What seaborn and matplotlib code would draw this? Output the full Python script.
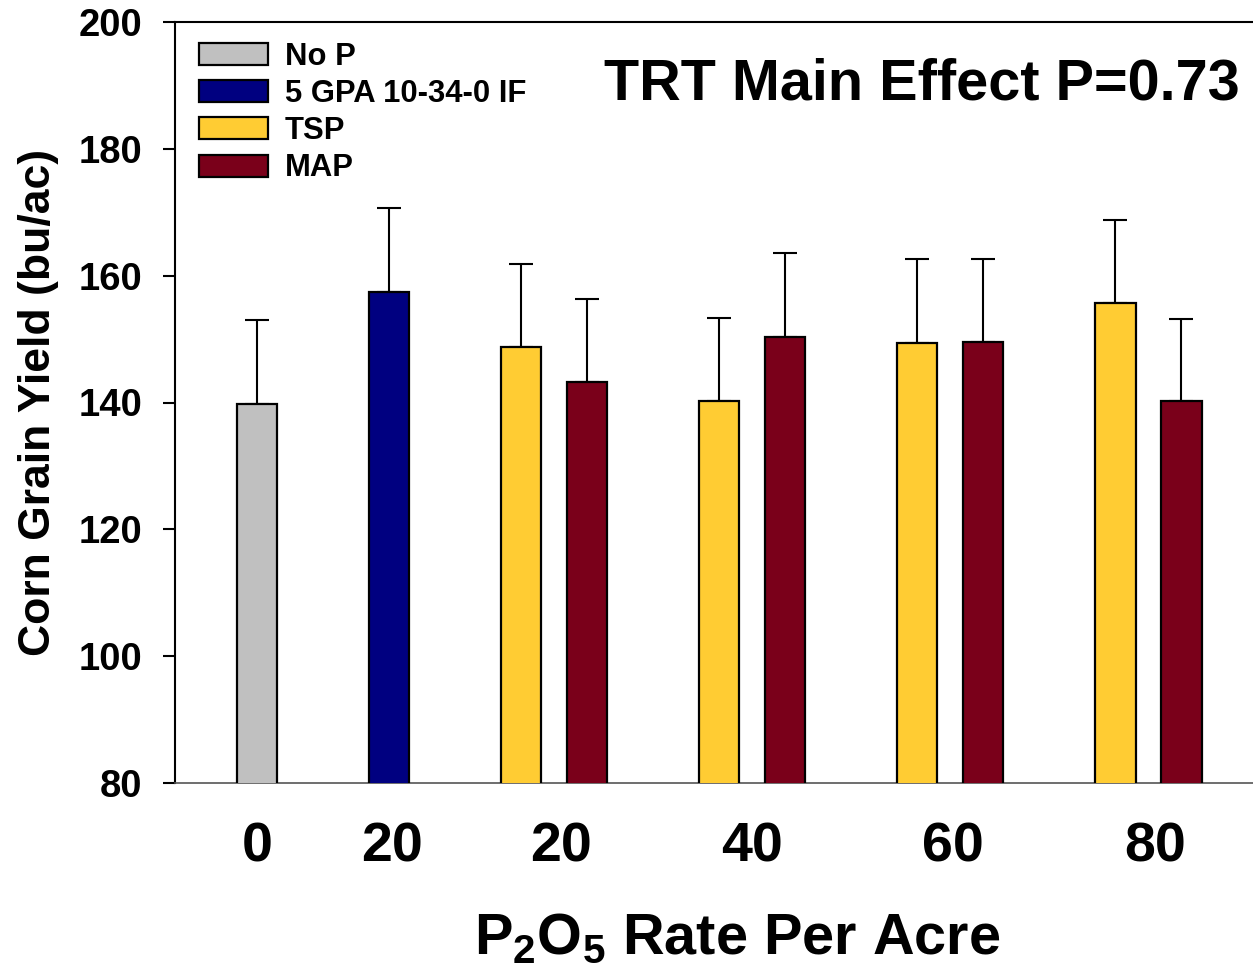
import matplotlib
matplotlib.use("Agg")
import matplotlib.pyplot as plt
from matplotlib.patches import Patch
import seaborn as sns
import pandas as pd
import numpy as np

# ---- data ----
treatments = ["No P", "5 GPA 10-34-0 IF", "TSP", "MAP", "TSP", "MAP", "TSP", "MAP", "TSP", "MAP"]
rate_group = ["0", "20", "20", "20", "40", "40", "60", "60", "80", "80"]
yield_mean = [139.8, 157.4, 148.8, 143.2, 140.2, 150.3, 149.4, 149.5, 155.7, 140.2]
yield_err = [13.2, 13.3, 13.1, 13.1, 13.1, 13.3, 13.2, 13.1, 13.1, 13.0]
tick_labels = ["0", "20", "20", "40", "60", "80"]
legend_order = ["No P", "5 GPA 10-34-0 IF", "TSP", "MAP"]
colors = ["#C0C0C0", "#000080", "#FFCC33", "#7A001A"]

# ---- layout (positions of slots) ----
group_centers = [0.0, 2.0, 4.5, 7.5, 10.5, 13.5]
slot_of_bar = [0, 1, 2, 2, 3, 3, 4, 4, 5, 5]
offset_of_bar = [0, 0, -0.5, 0.5, -0.5, 0.5, -0.5, 0.5, -0.5, 0.5]
xpos = [group_centers[s] + o for s, o in zip(slot_of_bar, offset_of_bar)]
label_positions = [0.0, 2.05, 4.6, 7.5, 10.55, 13.6]

df = pd.DataFrame({"x": xpos, "y": yield_mean, "trt": treatments, "err": yield_err})

sns.set_theme(style="white")
plt.rcParams["font.family"] = ["Liberation Sans", "DejaVu Sans"]
plt.rcParams["font.weight"] = "bold"
plt.rcParams["text.color"] = "black"
plt.rcParams["axes.labelcolor"] = "black"
plt.rcParams["xtick.color"] = "black"
plt.rcParams["ytick.color"] = "black"
plt.rcParams["mathtext.fontset"] = "custom"
plt.rcParams["mathtext.bf"] = "Liberation Sans:bold"
plt.rcParams["mathtext.rm"] = "Liberation Sans:bold"

W, H = 1253, 980
fig = plt.figure(figsize=(W / 100, H / 100), dpi=100)
ax_left, ax_bottom, ax_top = 175, 783, 22
ax = fig.add_axes([ax_left / W, 1 - ax_bottom / H, (W - ax_left) / W, (ax_bottom - ax_top) / H])

palette = dict(zip(legend_order, colors))
sns.barplot(data=df, x="x", y="y", hue="trt", hue_order=legend_order, palette=palette,
            native_scale=True, dodge=False, width=0.62, errorbar=None,
            edgecolor="black", linewidth=1.6, saturation=1, legend=False, ax=ax, zorder=3)

ax.errorbar(df["x"], df["y"], yerr=[np.zeros(len(df)), df["err"]], fmt="none",
            ecolor="black", elinewidth=1.5, capsize=8.6, capthick=1.5, zorder=2)

ax.set_ylim(80, 200)
ax.set_xlim(-1.242, 15.09)
ax.set_yticks([80, 100, 120, 140, 160, 180, 200])
ax.set_xticks(label_positions)
ax.set_xticklabels(tick_labels)

ax.tick_params(axis="y", direction="out", length=8.6, width=1.5, color="black",
               labelcolor="black", labelsize=27.5, pad=15, left=True)
ax.tick_params(axis="x", length=0, labelsize=40, pad=28, labelcolor="black")
for lab in ax.get_xticklabels() + ax.get_yticklabels():
    lab.set_fontweight("bold")

ax.spines["right"].set_visible(False)
ax.spines["left"].set_color("black")
ax.spines["left"].set_linewidth(1.5)
ax.spines["top"].set_color("black")
ax.spines["top"].set_linewidth(1.5)
ax.spines["bottom"].set_color("#555555")
ax.spines["bottom"].set_linewidth(1.2)

ax.set_ylabel("Corn Grain Yield (bu/ac)", fontsize=32, fontweight="bold", labelpad=14, color="black")
ax.set_xlabel(r"$\mathbf{P_2O_5}$ Rate Per Acre", fontsize=41.5, fontweight="bold", color="black")
ax.xaxis.set_label_coords((737 - ax_left) / (W - ax_left), (ax_bottom - 912) / (ax_bottom - ax_top))

ax.text(0.988, (ax_bottom - 100) / (ax_bottom - ax_top), "TRT Main Effect P=0.73",
        transform=ax.transAxes, ha="right", va="baseline", fontsize=41.5, fontweight="bold",
        color="black")

handles = [Patch(facecolor=palette[t], edgecolor="black", linewidth=1.6) for t in legend_order]
leg = ax.legend(handles, legend_order, loc="upper left",
                bbox_to_anchor=((199 - ax_left) / (W - ax_left), (ax_bottom - 42) / (ax_bottom - ax_top)),
                frameon=False, fontsize=22.3, handlelength=2.22, handleheight=0.72,
                handletextpad=0.55, labelspacing=0.23, borderpad=0, borderaxespad=0)
for t in leg.get_texts():
    t.set_fontweight("bold")
    t.set_color("black")

fig.savefig("out.png", dpi=100)
